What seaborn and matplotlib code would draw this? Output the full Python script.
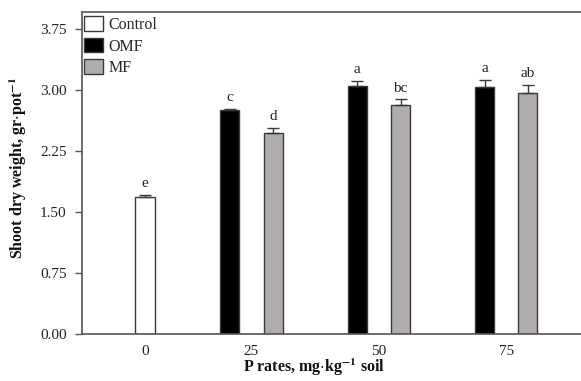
import matplotlib
matplotlib.use("Agg")
import matplotlib.pyplot as plt
import seaborn as sns
import pandas as pd
import numpy as np
from matplotlib.patches import Patch

# ---- data ----
rates = ["0", "25", "50", "75"]
control_vals = [1.68]
control_err = [0.03]
control_letters = ["e"]
omf_vals = [2.76, 3.05, 3.04]
omf_err = [0.012, 0.06, 0.08]
omf_letters = ["c", "a", "a"]
mf_vals = [2.47, 2.82, 2.97]
mf_err = [0.07, 0.065, 0.09]
mf_letters = ["d", "bc", "ab"]
yticks = [0.00, 0.75, 1.50, 2.25, 3.00, 3.75]

sns.set_theme(style="white")
plt.rcParams["font.family"] = ["Liberation Serif", "DejaVu Serif"]
plt.rcParams["mathtext.fontset"] = "stix"

fig = plt.figure(figsize=(5.81, 3.81), dpi=100)
ax = fig.add_axes([0.141, 0.123, 0.862, 0.8455])

edge = "#3a3a3a"
pal = {"Control": "#ffffff", "OMF": "#000000", "MF": "#b0acaa"}

treat_df = pd.DataFrame({
    "rate": rates[1:] * 2,
    "treatment": ["OMF"] * 3 + ["MF"] * 3,
    "value": omf_vals + mf_vals,
})
ctrl_df = pd.DataFrame({"rate": rates[:1], "treatment": ["Control"], "value": control_vals})

# Control bar (categorical scale), shifted right within group
sns.barplot(data=ctrl_df, x="rate", y="value", hue="treatment", order=rates,
            hue_order=["Control"], palette=pal, width=0.15, dodge=False,
            edgecolor=edge, linewidth=1.0, errorbar=None, ax=ax, legend=False)
n_ctrl = len(ax.patches)
for p in ax.patches[:n_ctrl]:
    p.set_x(p.get_x() + 0.165)

sns.barplot(data=treat_df, x="rate", y="value", hue="treatment", order=rates,
            hue_order=["OMF", "MF"], palette=pal, width=0.68, gap=0.56, dodge=True,
            edgecolor=edge, linewidth=1.0, errorbar=None, ax=ax, legend=False)

bars = [p for p in ax.patches if p.get_height() > 0]
ctrl_bars = bars[:1]
treat_bars = bars[1:]
omf_bars = treat_bars[:3]
mf_bars = treat_bars[3:6]

def annotate(blist, vals, errs, letters):
    for b, v, e, l in zip(blist, vals, errs, letters):
        xc = b.get_x() + b.get_width() / 2
        ax.errorbar([xc], [v], yerr=[[0], [e]], fmt="none", ecolor=edge,
                    elinewidth=1.0, capsize=4, capthick=1.0, zorder=3)
        ax.annotate(l, (xc, v + e), xytext=(0, 3.5), textcoords="offset points",
                    ha="center", va="bottom", fontsize=11, color="#222222")

annotate(ctrl_bars, control_vals, control_err, control_letters)
annotate(omf_bars, omf_vals, omf_err, omf_letters)
annotate(mf_bars, mf_vals, mf_err, mf_letters)

ax.set_xlim(-0.33, 3.6)
ax.set_ylim(0, 3.96)
ax.set_yticks(yticks)
ax.set_yticklabels([f"{t:.2f}" for t in yticks])
xt = [0.165, 1, 2, 3]
ax.set_xticks(xt)
ax.set_xticklabels(rates)

for s in ["left", "bottom", "top"]:
    ax.spines[s].set_color("#555555")
    ax.spines[s].set_linewidth(1.2)
ax.spines["right"].set_visible(False)

ax.tick_params(axis="y", which="both", left=True, direction="out", length=5,
               width=1.0, color="#555555", labelsize=11, pad=6, labelcolor="#222222")
ax.tick_params(axis="x", bottom=False, labelsize=11, pad=2, labelcolor="#222222")

ax.set_ylabel(r"Shoot dry weight, gr$\cdot$pot$^{\mathbf{-1}}$", fontsize=11.5,
              fontweight="bold", color="#111111", va="center")
ax.yaxis.set_label_coords(-0.126, 0.515)
ax.set_xlabel(r"P rates, mg$\cdot$kg$^{\mathbf{-1}}$ soil", fontsize=11.5,
              fontweight="bold", color="#111111", va="center")
ax.xaxis.set_label_coords(0.463, -0.103)

handles = [Patch(facecolor=pal[k], edgecolor=edge, linewidth=1.0) for k in ["Control", "OMF", "MF"]]
leg = ax.legend(handles, ["Control", "OMF", "MF"], loc="upper left", frameon=False,
                fontsize=11.5, handlelength=1.2, handleheight=1.05, handletextpad=0.35,
                labelspacing=0.3, borderaxespad=0.0, borderpad=0.25,
                bbox_to_anchor=(-0.004, 1.0))

fig.savefig("out.png", dpi=100)
